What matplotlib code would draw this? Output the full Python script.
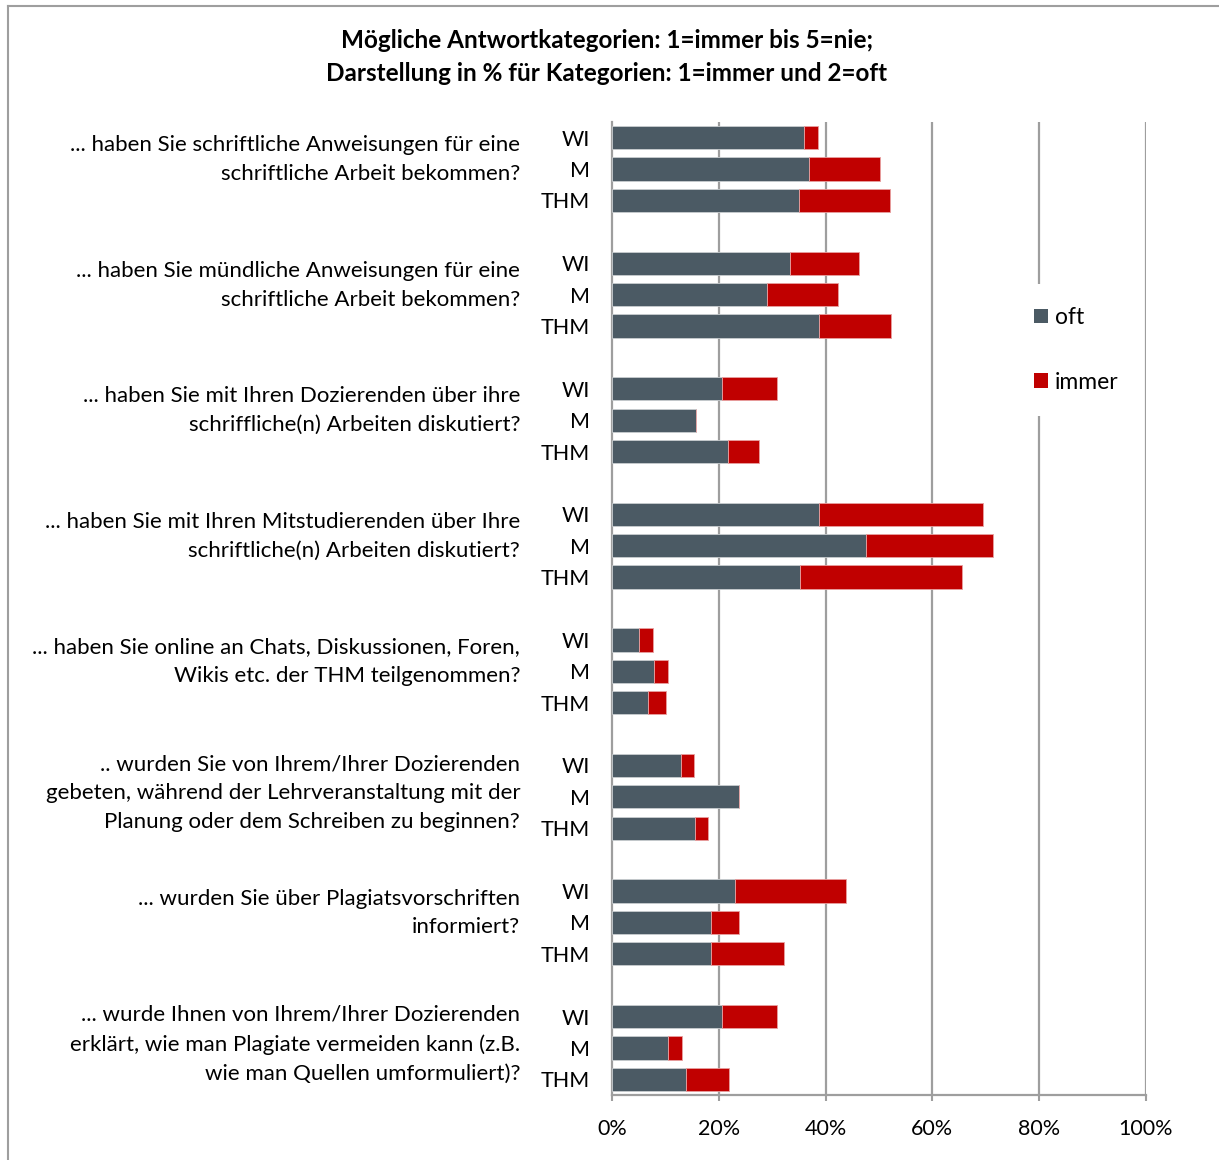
import numpy as np
import matplotlib.pyplot as plt
from matplotlib.patches import Patch

plt.rcParams['font.family'] = ['Lato', 'DejaVu Sans']

# Fragen (Kategorien)
fragen = [
    "... haben Sie schriftliche Anweisungen für eine\nschriftliche Arbeit bekommen?",
    "... haben Sie mündliche Anweisungen für eine\nschriftliche Arbeit bekommen?",
    "... haben Sie mit Ihren Dozierenden über ihre\nschriffliche(n) Arbeiten diskutiert?",
    "... haben Sie mit Ihren Mitstudierenden über Ihre\nschriftliche(n) Arbeiten diskutiert?",
    "... haben Sie online an Chats, Diskussionen, Foren,\nWikis etc. der THM teilgenommen?",
    ".. wurden Sie von Ihrem/Ihrer Dozierenden\ngebeten, während der Lehrveranstaltung mit der\nPlanung oder dem Schreiben zu beginnen?",
    "... wurden Sie über Plagiatsvorschriften\ninformiert?",
    "... wurde Ihnen von Ihrem/Ihrer Dozierenden\nerklärt, wie man Plagiate vermeiden kann (z.B.\nwie man Quellen umformuliert)?",
]
gruppen = ["WI", "M", "THM"]

# Werte in % (je Frage: WI, M, THM)
oft = [
    [36.0, 36.9, 35.0],
    [33.4, 29.0, 38.7],
    [20.6, 15.8, 21.8],
    [38.7, 47.5, 35.2],
    [5.1, 7.9, 6.7],
    [12.9, 23.8, 15.6],
    [23.1, 18.5, 18.6],
    [20.6, 10.5, 13.9],
]
immer = [
    [2.6, 13.3, 17.1],
    [12.9, 13.3, 13.5],
    [10.3, 0.0, 5.7],
    [30.8, 23.9, 30.3],
    [2.6, 2.6, 3.5],
    [2.5, 0.0, 2.3],
    [20.7, 5.3, 13.6],
    [10.3, 2.7, 8.1],
]
x_ticks = [0, 20, 40, 60, 80, 100]

grau = '#4B5A64'
rot = '#C00000'
linie = '#9E9E9E'

fig = plt.figure(figsize=(12.19, 11.60), dpi=100)
ax = fig.add_axes([612 / 1219, 1 - 1095 / 1160, 534 / 1219, 973 / 1160])

# Positionen: 3 Balken je Frage, 1 Einheit Abstand zwischen Gruppen
pos = []
lab = []
for g in range(len(fragen)):
    for i in range(3):
        pos.append(g * 4 + i)
        lab.append(gruppen[i])
pos = np.array(pos)
oft_flat = np.array(oft).ravel()
immer_flat = np.array(immer).ravel()

ax.barh(pos, oft_flat, height=0.74, color=grau, edgecolor='#c8cdd0', linewidth=0.6, zorder=3)
ax.barh(pos, immer_flat, left=oft_flat, height=0.74, color=rot, edgecolor='#e8a0a0', linewidth=0.6, zorder=3)

ax.set_xlim(0, 100)
ax.set_ylim(30.5, -0.5)
ax.set_xticks(x_ticks)
ax.set_xticklabels([f"{v}%" for v in x_ticks], fontsize=15.5)
ax.set_yticks(pos)
ax.set_yticklabels(lab, fontsize=15.5)
ax.tick_params(axis='y', length=0, pad=16)
ax.tick_params(axis='x', length=4, width=1.5, color=linie, pad=13)

for v in x_ticks[1:]:
    ax.axvline(v, color=linie, linewidth=1.6, zorder=1)
for s in ['top', 'right']:
    ax.spines[s].set_visible(False)
for s in ['left', 'bottom']:
    ax.spines[s].set_color(linie)
    ax.spines[s].set_linewidth(1.6)

# Fragetexte links
for g, txt in enumerate(fragen):
    n = txt.count("\n") + 1
    off = -0.3 if n == 2 else -0.12
    ax.text(-0.172, g * 4 + 1 + off, txt, transform=ax.get_yaxis_transform(),
            ha='right', va='center', fontsize=16, linespacing=1.55)

fig.text(607 / 1219, 1 - 57 / 1160,
         "Mögliche Antwortkategorien: 1=immer bis 5=nie;\nDarstellung in % für Kategorien: 1=immer und 2=oft",
         ha='center', va='center', fontsize=17.5, fontweight='bold', linespacing=1.55)

handles = [Patch(facecolor=grau), Patch(facecolor=rot)]
leg = fig.legend(handles, ['oft', 'immer'], loc='center left',
                 bbox_to_anchor=(1000 / 1219, 1 - 350 / 1160), fontsize=16.5,
                 handlelength=0.6, handleheight=0.6, handletextpad=0.3,
                 labelspacing=1.9, frameon=True, borderpad=1.0)
leg.get_frame().set_facecolor('white')
leg.get_frame().set_edgecolor('none')
leg.get_frame().set_alpha(1)

# Rahmen
fig.add_artist(plt.Line2D([8 / 1219, 8 / 1219], [0, 1 - 6 / 1160], color=linie, linewidth=1.5))
fig.add_artist(plt.Line2D([8 / 1219, 1], [1 - 6 / 1160, 1 - 6 / 1160], color=linie, linewidth=1.5))

fig.savefig("out.png", dpi=100)
